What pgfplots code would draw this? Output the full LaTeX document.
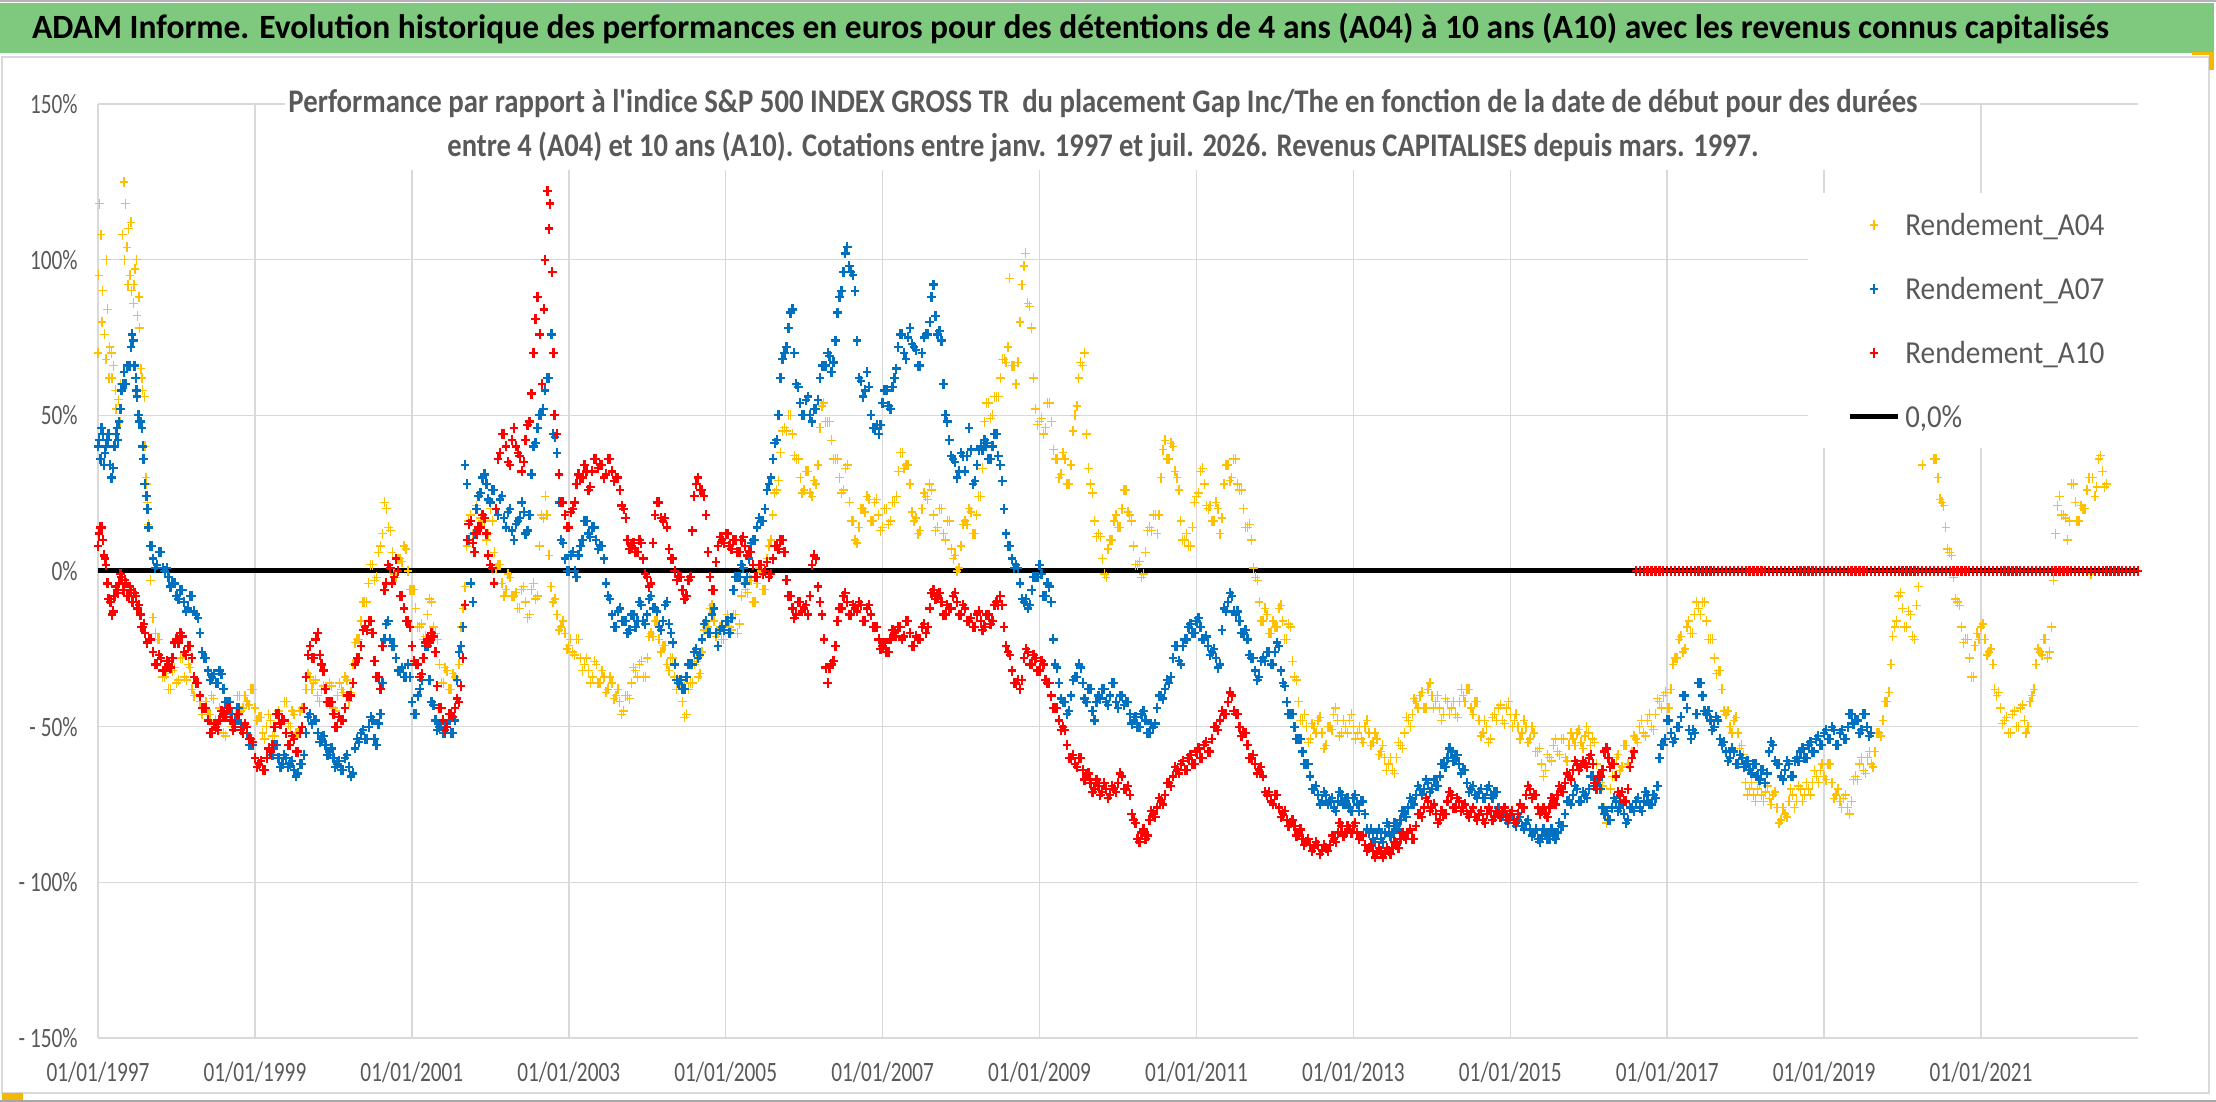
\documentclass[border=0pt]{standalone}
\usepackage{fontspec}
\setmainfont{Carlito}
\usepackage{graphicx}
\usepackage{pgfplots}
\pgfplotsset{compat=1.18}
\definecolor{cA04}{HTML}{FFC000}
\definecolor{cA07}{HTML}{0070C0}
\definecolor{cA10}{HTML}{FF0000}
\definecolor{txt}{HTML}{595959}
\definecolor{grd}{HTML}{D9D9D9}
\definecolor{ttl}{RGB}{127,201,127}
\definecolor{hdl}{HTML}{F5B800}
\newcommand{\sx}[2]{\scalebox{#1}[1]{#2}}
\begin{document}
\begin{tikzpicture}
\useasboundingbox (0,0) rectangle (1108pt,551pt);
\fill[white] (0,0) rectangle (1108pt,551pt);
\fill[ttl] (0,524.5pt) rectangle (1107pt,549.5pt);
\draw[gray!60, line width=0.75pt] (0,550.6pt) -- (1108pt,550.6pt);
\draw[grd, line width=0.75pt] (1pt,4.5pt) rectangle (1104.5pt,522.5pt);
\draw[gray!70, line width=0.75pt] (0,0.4pt) -- (1108pt,0.4pt);
\fill[hdl] (1pt,1pt) rectangle (11.5pt,4.5pt);
\fill[hdl] (1096pt,523.5pt) rectangle (1107pt,525pt);
\fill[hdl] (1104.5pt,516pt) rectangle (1107pt,525pt);
\node[anchor=base, inner sep=0pt] at (535.25pt,531.5pt) {\resizebox{1038.5pt}{\height}{\fontsize{17}{20}\selectfont\bfseries ADAM Informe. Evolution historique des performances en euros pour des détentions de 4 ans (A04) à 10 ans (A10) avec les revenus connus capitalisés}};
\begin{axis}[
  at={(49pt,32pt)}, anchor=south west, scale only axis,
  width=1020pt, height=467pt,
  xmin=1997, xmax=2023, ymin=-150, ymax=150,
  axis line style={draw=none},
  xtick={1997,1999,2001,2003,2005,2007,2009,2011,2013,2015,2017,2019,2021},
  xticklabels={\sx{0.76}{01/01/1997},\sx{0.76}{01/01/1999},\sx{0.76}{01/01/2001},\sx{0.76}{01/01/2003},\sx{0.76}{01/01/2005},\sx{0.76}{01/01/2007},\sx{0.76}{01/01/2009},\sx{0.76}{01/01/2011},\sx{0.76}{01/01/2013},\sx{0.76}{01/01/2015},\sx{0.76}{01/01/2017},\sx{0.76}{01/01/2019},\sx{0.76}{01/01/2021}},
  ytick={-150,-100,-50,0,50,100,150},
  yticklabels={\sx{0.76}{- 150\%},\sx{0.76}{- 100\%},\sx{0.76}{- 50\%},\sx{0.76}{0\%},\sx{0.76}{50\%},\sx{0.76}{100\%},\sx{0.76}{150\%}},
  grid=major, grid style={grd, line width=0.75pt},
  major tick length=0pt,
  xticklabel style={anchor=base, inner sep=0pt, yshift=-21.8pt, text=txt, font=\fontsize{14}{16}\selectfont},
  yticklabel style={anchor=east, inner sep=0pt, xshift=-10pt, text=txt, font=\fontsize{14}{16}\selectfont},
  legend style={at={(0.8382,0.9047)}, anchor=north west, draw=none, fill=white,
    inner xsep=19.5pt, inner ysep=8pt, row sep=16.5pt,
    font=\fontsize{16}{18}\selectfont, text=txt,
    nodes={inner sep=0pt, text height=13pt, text depth=2.5pt},
    /tikz/every odd column/.style={column sep=2.5pt}},
  legend cell align=left,
  legend image code/.code={\draw[mark repeat=2,mark phase=2,#1] plot coordinates {(0pt,0pt) (12pt,0pt) (24pt,0pt)};},
  every axis plot/.append style={mark size=2.5pt},
  y04/.style={only marks, mark=+, color=cA04, line width=0.7pt, mark options={xscale=0.85}},
  y07/.style={only marks, mark=+, color=cA07, line width=1.15pt, mark options={xscale=0.85}},
  y10/.style={only marks, mark=+, color=cA10, line width=1.15pt, mark options={xscale=0.85}},
]
\addplot[black, line width=2.5pt, forget plot] coordinates {(1997,0) (2023,0)};
% A04
\addplot[y04] coordinates {
(1997.00,70)(1997.02,118)(1997.04,108)(1997.06,90)(1997.08,76)(1997.10,68)(1997.12,84)(1997.15,72)(1997.18,62)(1997.20,66)
(1997.23,52)(1997.26,55)(1997.29,60)(1997.31,108)(1997.33,125)(1997.35,118)(1997.37,104)(1997.39,110)(1997.41,95)(1997.43,90)
(1997.45,86)(1997.47,97)(1997.50,82)(1997.52,88)(1997.55,65)(1997.57,58)(1997.60,40)(1997.62,28)(1997.64,15)(1997.67,-3)
(1997.70,-15)(1997.73,-20)(1997.76,-22)(1997.80,-28)(1997.85,-34)(1997.90,-38)(1997.95,-32)(1998.00,-36)(1998.05,-28)(1998.10,-34)
(1998.15,-30)(1998.20,-38)(1998.25,-36)(1998.30,-42)(1998.35,-44)(1998.40,-46)(1998.45,-40)(1998.50,-48)(1998.55,-44)(1998.60,-52)
(1998.65,-47)(1998.70,-50)(1998.75,-46)(1998.80,-40)(1998.85,-44)(1998.90,-42)(1998.95,-38)(1999.00,-44)(1999.05,-47)(1999.10,-52)
(1999.15,-50)(1999.20,-48)(1999.25,-53)(1999.30,-45)(1999.35,-48)(1999.40,-42)(1999.45,-50)(1999.50,-46)(1999.55,-52)(1999.60,-44)
(1999.65,-38)(1999.70,-34)(1999.75,-36)(1999.80,-40)(1999.85,-38)(1999.90,-42)(1999.95,-36)(2000.00,-44)(2000.05,-40)(2000.10,-38)
(2000.15,-34)(2000.20,-42)(2000.25,-30)(2000.30,-22)(2000.35,-16)(2000.40,-10)(2000.45,-4)(2000.50,2)(2000.55,-2)(2000.60,8)
(2000.65,22)(2000.68,20)(2000.70,14)(2000.75,6)(2000.80,-2)(2000.85,4)(2000.90,8)(2000.95,0)(2001.00,-6)(2001.05,-12)
(2001.10,-18)(2001.15,-22)(2001.20,-14)(2001.25,-10)(2001.30,-20)(2001.35,-30)(2001.40,-36)(2001.45,-32)(2001.50,-38)(2001.55,-34)
(2001.60,-30)(2001.65,-12)(2001.70,8)(2001.75,18)(2001.80,12)(2001.85,24)(2001.90,16)(2001.95,10)(2002.00,20)(2002.05,6)
(2002.10,2)(2002.15,-4)(2002.20,-6)(2002.25,-2)(2002.30,-8)(2002.35,-12)(2002.40,-6)(2002.45,-10)(2002.50,-14)(2002.55,-4)
(2002.60,-8)(2002.65,18)(2002.70,24)(2002.75,5)(2002.80,-10)(2002.85,-14)(2002.90,-18)(2002.95,-20)(2003.00,-24)(2003.05,-26)
(2003.10,-22)(2003.15,-28)(2003.20,-30)(2003.25,-32)(2003.30,-34)(2003.35,-30)(2003.40,-36)(2003.45,-34)(2003.50,-38)(2003.55,-36)
(2003.60,-40)(2003.65,-42)(2003.70,-45)(2003.75,-40)(2003.80,-36)(2003.85,-32)(2003.90,-30)(2003.95,-34)(2004.00,-28)(2004.05,-20)
(2004.10,-16)(2004.15,-22)(2004.20,-24)(2004.25,-30)(2004.30,-28)(2004.35,-34)(2004.40,-36)(2004.45,-42)(2004.50,-46)(2004.55,-36)
(2004.60,-30)(2004.65,-34)(2004.70,-26)(2004.75,-18)(2004.80,-12)(2004.85,-16)(2004.90,-20)(2004.95,-22)(2005.00,-16)(2005.05,-18)
(2005.10,-14)(2005.15,-20)(2005.20,-8)(2005.25,-6)(2005.30,-2)(2005.35,-10)(2005.40,-4)(2005.45,0)(2005.50,-6)(2005.55,8)
(2005.60,18)(2005.65,26)(2005.70,38)(2005.75,46)(2005.80,50)(2005.85,44)(2005.90,36)(2005.95,30)(2006.00,26)(2006.05,32)
(2006.10,24)(2006.15,28)(2006.20,46)(2006.25,54)(2006.30,48)(2006.35,42)(2006.40,36)(2006.45,30)(2006.50,26)(2006.55,34)
(2006.60,16)(2006.65,10)(2006.70,14)(2006.75,20)(2006.80,24)(2006.85,16)(2006.90,22)(2006.95,18)(2007.00,14)(2007.05,20)
(2007.10,16)(2007.15,22)(2007.20,32)(2007.25,38)(2007.30,34)(2007.35,28)(2007.40,16)(2007.45,12)(2007.50,20)(2007.55,24)
(2007.60,28)(2007.65,18)(2007.70,14)(2007.75,20)(2007.80,10)(2007.85,16)(2007.90,4)(2007.95,0)(2008.00,8)(2008.05,16)
(2008.10,20)(2008.15,12)(2008.20,18)(2008.25,24)(2008.30,48)(2008.35,54)(2008.40,50)(2008.45,56)(2008.50,62)(2008.55,68)
(2008.60,72)(2008.62,94)(2008.65,66)(2008.70,60)(2008.75,80)(2008.80,98)(2008.82,102)(2008.85,86)(2008.90,78)(2008.95,52)
(2009.00,48)(2009.05,44)(2009.10,54)(2009.15,48)(2009.20,36)(2009.25,30)(2009.30,38)(2009.35,28)(2009.40,34)(2009.45,50)
(2009.50,62)(2009.55,66)(2009.57,70)(2009.60,44)(2009.65,28)(2009.70,16)(2009.75,12)(2009.80,4)(2009.85,-2)(2009.90,10)
(2009.95,16)(2010.00,14)(2010.05,20)(2010.10,26)(2010.15,18)(2010.20,8)(2010.25,2)(2010.30,-2)(2010.35,6)(2010.40,14)
(2010.45,18)(2010.50,12)(2010.55,30)(2010.60,42)(2010.65,36)(2010.70,40)(2010.75,30)(2010.80,16)(2010.85,10)(2010.90,8)
(2010.95,14)(2011.00,24)(2011.05,32)(2011.10,28)(2011.15,20)(2011.20,16)(2011.25,22)(2011.30,12)(2011.35,28)(2011.40,34)
(2011.45,30)(2011.50,36)(2011.55,26)(2011.60,20)(2011.65,14)(2011.70,10)(2011.75,-2)(2011.80,-10)(2011.85,-16)(2011.90,-14)
(2011.95,-20)(2012.00,-18)(2012.05,-12)(2012.10,-16)(2012.15,-22)(2012.20,-18)(2012.25,-34)(2012.30,-42)(2012.35,-48)(2012.40,-50)
(2012.45,-54)(2012.50,-50)(2012.55,-48)(2012.60,-52)(2012.65,-56)(2012.70,-50)(2012.75,-46)(2012.80,-48)(2012.85,-52)(2012.90,-50)
(2012.95,-48)(2013.00,-50)(2013.05,-52)(2013.10,-54)(2013.15,-50)(2013.20,-52)(2013.25,-55)(2013.30,-54)(2013.35,-58)(2013.40,-60)
(2013.45,-62)(2013.50,-64)(2013.55,-60)(2013.60,-56)(2013.65,-52)(2013.70,-48)(2013.75,-46)(2013.80,-42)(2013.85,-40)(2013.90,-44)
(2013.95,-38)(2014.00,-40)(2014.05,-42)(2014.10,-44)(2014.15,-46)(2014.20,-42)(2014.25,-44)(2014.30,-46)(2014.35,-42)(2014.40,-40)
(2014.45,-38)(2014.50,-44)(2014.55,-42)(2014.60,-48)(2014.65,-52)(2014.70,-50)(2014.75,-54)(2014.80,-46)(2014.85,-44)(2014.90,-48)
(2014.95,-44)(2015.00,-46)(2015.05,-48)(2015.10,-50)(2015.15,-52)(2015.20,-50)(2015.25,-54)(2015.30,-52)(2015.35,-58)(2015.40,-62)
(2015.45,-64)(2015.50,-60)(2015.55,-56)(2015.60,-58)(2015.65,-54)(2015.70,-60)(2015.75,-56)(2015.80,-54)(2015.85,-52)(2015.90,-55)
(2015.95,-53)(2016.00,-52)(2016.05,-54)(2016.10,-62)(2016.15,-68)(2016.20,-76)(2016.25,-80)(2016.30,-66)(2016.35,-60)(2016.40,-64)
(2016.45,-56)(2016.50,-62)(2016.55,-58)(2016.60,-54)(2016.65,-50)(2016.70,-52)(2016.75,-48)(2016.80,-50)(2016.85,-46)(2016.90,-42)
(2016.95,-40)(2017.00,-44)(2017.05,-38)(2017.10,-28)(2017.15,-22)(2017.20,-26)(2017.25,-18)(2017.30,-20)(2017.35,-14)(2017.40,-12)
(2017.45,-10)(2017.50,-16)(2017.55,-22)(2017.60,-28)(2017.65,-32)(2017.70,-38)(2017.75,-46)(2017.80,-50)(2017.85,-48)(2017.90,-52)
(2017.95,-56)(2018.00,-68)(2018.05,-70)(2018.10,-72)(2018.15,-70)(2018.20,-72)(2018.25,-71)(2018.30,-73)(2018.35,-72)(2018.40,-76)
(2018.45,-80)(2018.50,-78)(2018.55,-74)(2018.60,-72)(2018.65,-74)(2018.70,-70)(2018.75,-72)(2018.80,-70)(2018.85,-68)(2018.90,-66)
(2018.95,-64)(2019.00,-66)(2019.05,-62)(2019.10,-68)(2019.15,-72)(2019.20,-74)(2019.25,-73)(2019.30,-76)(2019.35,-74)(2019.40,-66)
(2019.45,-62)(2019.50,-64)(2019.55,-60)(2019.60,-62)(2019.65,-58)(2019.70,-52)(2019.75,-48)(2019.80,-42)(2019.85,-30)(2019.90,-18)
(2019.95,-8)(2020.00,-12)(2020.05,-18)(2020.10,-14)(2020.15,-22)(2020.20,-5)(2020.25,34)(2020.40,36)(2020.45,30)(2020.50,22)
(2020.55,14)(2020.60,6)(2020.65,-2)(2020.70,-10)(2020.75,-18)(2020.80,-22)(2020.85,-28)(2020.90,-34)(2020.95,-20)(2021.00,-18)
(2021.05,-22)(2021.10,-26)(2021.15,-30)(2021.20,-40)(2021.25,-44)(2021.30,-48)(2021.35,-52)(2021.40,-46)(2021.45,-50)(2021.50,-44)
(2021.55,-48)(2021.60,-50)(2021.65,-40)(2021.70,-30)(2021.75,-26)(2021.80,-22)(2021.85,-28)(2021.90,-18)(2021.95,12)(2022.00,24)
(2022.05,18)(2022.10,10)(2022.15,28)(2022.20,22)(2022.25,16)(2022.30,20)(2022.35,26)(2022.40,-1)(2022.42,30)(2022.45,24)
(2022.50,36)(2022.55,32)(2022.60,28)
};
\addlegendentry{\sx{0.914}{Rendement\_A04}}
\addplot[y04, forget plot] coordinates {
(1997.01,95)(1997.05,80)(1997.11,100)(1997.14,62)(1997.17,70)(1997.22,58)(1997.28,48)(1997.34,100)(1997.38,92)(1997.42,112)
(1997.46,92)(1997.49,100)(1997.53,78)(1997.56,62)(1997.59,56)(1997.61,30)(1997.63,22)
(1997.78,-22)(1997.825,-34)(1997.875,-33)(1997.925,-38)(1997.975,-31)(1998.025,-35)(1998.075,-28)(1998.125,-35)(1998.175,-31)(1998.225,-40)
(1998.275,-36)(1998.325,-46)(1998.375,-42)(1998.425,-46)(1998.475,-41)(1998.525,-49)(1998.575,-45)(1998.625,-53)(1998.675,-46)(1998.725,-51)
(1998.775,-40)(1998.825,-45)(1998.875,-40)(1998.925,-43)(1998.975,-38)(1999.025,-48)(1999.075,-47)(1999.125,-54)(1999.175,-46)(1999.225,-53)
(1999.275,-46)(1999.325,-49)(1999.375,-42)(1999.425,-49)(1999.475,-45)(1999.525,-52)(1999.575,-45)(1999.625,-44)(1999.675,-33)(1999.725,-38)
(1999.775,-35)(1999.825,-42)(1999.875,-37)(1999.925,-42)(1999.975,-37)(2000.025,-45)(2000.075,-36)(2000.125,-39)(2000.175,-35)(2000.225,-39)
(2000.275,-23)(2000.325,-22)(2000.375,-10)(2000.425,-10)(2000.475,2)(2000.525,-3)(2000.575,6)(2000.625,12)(2000.725,13)(2000.775,-1)
(2000.825,4)(2000.875,3)(2000.925,7)(2000.975,-6)(2001.025,-6)(2001.075,-18)(2001.125,-17)(2001.175,-21)(2001.225,-9)(2001.275,-18)
(2001.325,-22)(2001.375,-36)(2001.425,-31)(2001.475,-38)(2001.525,-33)(2001.575,-35)(2001.625,-18)(2001.675,-5)(2001.725,16)(2001.775,12)
(2001.825,21)(2001.875,17)(2001.925,16)(2001.975,12)(2002.025,16)(2002.075,1)(2002.125,2)(2002.175,-8)(2002.225,-1)(2002.275,-8)
(2002.325,-7)(2002.375,-12)(2002.425,-5)(2002.475,-15)(2002.525,-6)(2002.575,-9)(2002.625,8)(2002.675,17)(2002.725,18)(2002.775,-5)
(2002.825,-9)(2002.875,-19)(2002.925,-16)(2002.975,-25)(2003.025,-22)(2003.075,-27)(2003.125,-22)(2003.175,-32)(2003.225,-28)(2003.275,-36)
(2003.325,-29)(2003.375,-36)(2003.425,-32)(2003.475,-39)(2003.525,-34)(2003.575,-41)(2003.625,-38)(2003.675,-46)(2003.725,-40)(2003.775,-41)
(2003.825,-31)(2003.875,-34)(2003.925,-29)(2003.975,-34)(2004.025,-21)(2004.075,-21)(2004.125,-16)(2004.175,-26)(2004.225,-24)(2004.275,-32)
(2004.325,-28)(2004.375,-38)(2004.425,-36)(2004.475,-47)(2004.525,-38)(2004.575,-36)(2004.625,-29)(2004.675,-33)(2004.725,-19)(2004.775,-18)
(2004.825,-11)(2004.875,-21)(2004.925,-18)(2004.975,-22)(2005.025,-14)(2005.075,-19)(2005.125,-14)(2005.175,-17)(2005.225,-4)(2005.275,-7)
(2005.325,-3)(2005.375,-10)(2005.425,1)(2005.475,-6)(2005.525,4)(2005.575,10)(2005.625,25)(2005.675,29)(2005.725,45)(2005.775,45)
(2005.825,50)(2005.875,37)(2005.925,36)(2005.975,25)(2006.025,32)(2006.075,25)(2006.125,29)(2006.175,34)(2006.225,53)(2006.275,48)
(2006.325,48)(2006.375,36)(2006.425,36)(2006.475,25)(2006.525,33)(2006.575,22)(2006.625,16)(2006.675,9)(2006.725,20)(2006.775,19)
(2006.825,23)(2006.875,16)(2006.925,23)(2006.975,13)(2007.025,20)(2007.075,15)(2007.125,22)(2007.175,24)(2007.225,38)(2007.275,33)
(2007.325,34)(2007.375,19)(2007.425,17)(2007.475,13)(2007.525,25)(2007.575,23)(2007.625,26)(2007.675,13)(2007.725,20)(2007.775,12)
(2007.825,16)(2007.875,7)(2007.925,5)(2007.975,1)(2008.025,15)(2008.075,15)(2008.125,19)(2008.175,12)(2008.225,24)(2008.275,33)
(2008.325,54)(2008.375,49)(2008.425,56)(2008.475,56)(2008.525,68)(2008.575,67)(2008.675,66)(2008.725,67)(2008.775,92)(2008.875,85)
(2008.925,62)(2008.975,47)(2009.025,49)(2009.075,46)(2009.125,54)(2009.175,39)(2009.225,36)(2009.275,31)(2009.325,36)(2009.375,28)
(2009.425,45)(2009.475,53)(2009.525,67)(2009.625,33)(2009.675,25)(2009.725,11)(2009.775,11)(2009.825,-1)(2009.875,7)(2009.925,10)
(2009.975,18)(2010.025,14)(2010.075,26)(2010.125,19)(2010.175,16)(2010.225,2)(2010.275,3)(2010.325,-1)(2010.375,13)(2010.425,13)
(2010.475,18)(2010.525,18)(2010.575,39)(2010.625,36)(2010.675,41)(2010.725,32)(2010.775,26)(2010.825,10)(2010.875,12)(2010.925,8)
(2010.975,22)(2011.025,25)(2011.075,33)(2011.125,21)(2011.175,21)(2011.225,16)(2011.275,20)(2011.325,17)(2011.375,34)(2011.425,29)
(2011.475,36)(2011.525,28)(2011.575,26)(2011.625,14)(2011.675,15)(2011.725,1)(2011.775,-3)(2011.825,-16)(2011.875,-12)(2011.925,-20)
(2011.975,-16)(2012.025,-18)(2012.075,-11)(2012.125,-22)(2012.175,-17)(2012.225,-29)(2012.275,-35)(2012.325,-48)(2012.375,-46)(2012.425,-55)
(2012.475,-49)(2012.525,-52)(2012.575,-47)(2012.625,-57)(2012.675,-50)(2012.725,-51)(2012.775,-44)(2012.825,-53)(2012.875,-48)(2012.925,-52)
(2012.975,-46)(2013.025,-54)(2013.075,-50)(2013.125,-55)(2013.175,-48)(2013.225,-56)(2013.275,-52)(2013.325,-59)(2013.375,-56)(2013.425,-64)
(2013.475,-60)(2013.525,-65)(2013.575,-55)(2013.625,-57)(2013.675,-47)(2013.725,-50)(2013.775,-41)(2013.825,-44)(2013.875,-39)(2013.925,-44)
(2013.975,-36)(2014.025,-44)(2014.075,-40)(2014.125,-48)(2014.175,-41)(2014.225,-46)(2014.275,-42)(2014.325,-47)(2014.375,-38)(2014.425,-42)
(2014.475,-38)(2014.525,-46)(2014.575,-42)(2014.625,-53)(2014.675,-48)(2014.725,-55)(2014.775,-47)(2014.825,-48)(2014.875,-43)(2014.925,-49)
(2014.975,-42)(2015.025,-50)(2015.075,-46)(2015.125,-54)(2015.175,-48)(2015.225,-55)(2015.275,-50)(2015.325,-58)(2015.375,-57)(2015.425,-66)
(2015.475,-59)(2015.525,-61)(2015.575,-54)(2015.625,-59)(2015.675,-54)(2015.725,-61)(2015.775,-52)(2015.825,-56)(2015.875,-51)(2015.925,-57)
(2015.975,-50)(2016.025,-56)(2016.075,-55)(2016.125,-68)(2016.175,-69)(2016.225,-81)(2016.275,-70)(2016.325,-66)(2016.375,-59)(2016.425,-63)
(2016.475,-56)(2016.525,-63)(2016.575,-53)(2016.625,-55)(2016.675,-48)(2016.725,-53)(2016.775,-46)(2016.825,-51)(2016.875,-41)(2016.925,-44)
(2016.975,-39)(2017.025,-44)(2017.075,-30)(2017.125,-28)(2017.175,-21)(2017.225,-25)(2017.275,-16)(2017.325,-20)(2017.375,-10)(2017.425,-14)
(2017.475,-10)(2017.525,-22)(2017.575,-22)(2017.625,-33)(2017.675,-32)(2017.725,-45)(2017.775,-45)(2017.825,-52)(2017.875,-47)(2017.925,-57)
(2017.975,-59)(2018.025,-72)(2018.075,-68)(2018.125,-74)(2018.175,-68)(2018.225,-74)(2018.275,-69)(2018.325,-75)(2018.375,-71)(2018.425,-81)
(2018.475,-76)(2018.525,-79)(2018.575,-70)(2018.625,-76)(2018.675,-69)(2018.725,-74)(2018.775,-68)(2018.825,-72)(2018.875,-64)(2018.925,-68)
(2018.975,-62)(2019.025,-67)(2019.075,-62)(2019.125,-73)(2019.175,-70)(2019.225,-76)(2019.275,-72)(2019.325,-78)(2019.375,-67)(2019.425,-67)
(2019.475,-60)(2019.525,-65)(2019.575,-58)(2019.625,-63)(2019.675,-52)(2019.725,-53)(2019.775,-42)(2019.825,-39)(2019.875,-21)(2019.925,-16)
(2019.975,-7)(2020.025,-18)(2020.075,-13)(2020.125,-21)(2020.175,-11)(2020.425,36)(2020.475,23)(2020.525,21)(2020.575,7)(2020.625,5)
(2020.675,-9)(2020.725,-11)(2020.775,-23)(2020.825,-22)(2020.875,-34)(2020.925,-24)(2020.975,-22)(2021.025,-17)(2021.075,-27)(2021.125,-25)
(2021.175,-38)(2021.225,-39)(2021.275,-49)(2021.325,-47)(2021.375,-52)(2021.425,-45)(2021.475,-50)(2021.525,-43)(2021.575,-52)(2021.625,-42)
(2021.675,-38)(2021.725,-25)(2021.775,-27)(2021.825,-22)(2021.875,-26)(2021.925,-3)(2021.975,21)(2022.025,18)(2022.075,17)(2022.125,16)
(2022.175,28)(2022.225,16)(2022.275,21)(2022.325,20)(2022.375,30)(2022.475,27)(2022.525,37)(2022.575,27)
};
% A07
\addplot[y07] coordinates {
(1997.00,40)(1997.03,36)(1997.06,44)(1997.09,38)(1997.12,42)(1997.15,34)(1997.18,30)(1997.21,40)(1997.24,46)(1997.27,48)
(1997.30,58)(1997.33,64)(1997.36,60)(1997.39,66)(1997.42,72)(1997.45,74)(1997.48,62)(1997.50,56)(1997.53,48)(1997.56,46)
(1997.58,36)(1997.61,24)(1997.63,20)(1997.66,8)(1997.70,4)(1997.75,2)(1997.80,6)(1997.85,0)(1997.90,-2)(1997.95,-4)
(1998.00,-8)(1998.05,-6)(1998.10,-10)(1998.15,-12)(1998.20,-8)(1998.25,-14)(1998.30,-20)(1998.35,-28)(1998.40,-32)(1998.45,-34)
(1998.50,-36)(1998.55,-32)(1998.60,-38)(1998.65,-42)(1998.70,-46)(1998.75,-48)(1998.80,-44)(1998.85,-50)(1998.90,-52)(1998.95,-56)
(1999.00,-60)(1999.05,-62)(1999.10,-64)(1999.15,-60)(1999.20,-58)(1999.25,-56)(1999.30,-60)(1999.35,-62)(1999.40,-60)(1999.45,-62)
(1999.50,-64)(1999.55,-65)(1999.60,-62)(1999.65,-52)(1999.70,-46)(1999.75,-48)(1999.80,-52)(1999.85,-54)(1999.90,-56)(1999.95,-58)
(2000.00,-60)(2000.05,-62)(2000.10,-64)(2000.15,-60)(2000.20,-63)(2000.25,-65)(2000.30,-54)(2000.35,-52)(2000.40,-54)(2000.45,-50)
(2000.50,-48)(2000.55,-56)(2000.60,-46)(2000.65,-22)(2000.70,-16)(2000.75,-24)(2000.80,-28)(2000.85,-32)(2000.90,-34)(2000.95,-30)
(2001.00,-42)(2001.05,-46)(2001.10,-38)(2001.15,-28)(2001.20,-24)(2001.25,-42)(2001.30,-48)(2001.35,-50)(2001.40,-52)(2001.45,-49)
(2001.50,-52)(2001.55,-48)(2001.60,-26)(2001.65,-18)(2001.68,34)(2001.70,28)(2001.75,-4)(2001.78,-10)(2001.80,12)(2001.85,24)
(2001.90,30)(2001.95,28)(2002.00,22)(2002.05,26)(2002.10,18)(2002.15,24)(2002.20,14)(2002.25,20)(2002.30,10)(2002.35,16)
(2002.40,22)(2002.45,12)(2002.50,18)(2002.55,40)(2002.60,46)(2002.65,50)(2002.70,58)(2002.75,62)(2002.78,76)(2002.80,44)
(2002.85,38)(2002.90,10)(2002.95,4)(2003.00,0)(2003.05,6)(2003.10,-2)(2003.15,8)(2003.20,16)(2003.25,12)(2003.30,14)
(2003.35,10)(2003.40,8)(2003.45,4)(2003.50,-8)(2003.55,-14)(2003.60,-18)(2003.65,-12)(2003.70,-16)(2003.75,-20)(2003.80,-14)
(2003.85,-18)(2003.90,-10)(2003.95,-16)(2004.00,-14)(2004.05,-8)(2004.10,-12)(2004.15,-18)(2004.20,-16)(2004.25,-10)(2004.30,-20)
(2004.35,-30)(2004.40,-36)(2004.45,-38)(2004.50,-34)(2004.55,-30)(2004.60,-26)(2004.65,-28)(2004.70,-22)(2004.75,-16)(2004.80,-20)
(2004.85,-12)(2004.90,-24)(2004.95,-18)(2005.00,-16)(2005.05,-20)(2005.10,-6)(2005.15,-2)(2005.20,2)(2005.25,-4)(2005.30,4)
(2005.35,10)(2005.40,14)(2005.45,16)(2005.50,20)(2005.55,28)(2005.60,36)(2005.65,42)(2005.70,62)(2005.75,70)(2005.80,78)
(2005.85,84)(2005.90,60)(2005.95,54)(2006.00,50)(2006.05,56)(2006.10,48)(2006.15,52)(2006.20,62)(2006.25,66)(2006.30,70)
(2006.35,64)(2006.40,74)(2006.45,88)(2006.50,96)(2006.55,104)(2006.60,96)(2006.65,90)(2006.70,62)(2006.75,56)(2006.80,64)
(2006.85,50)(2006.90,46)(2006.95,44)(2007.00,54)(2007.05,58)(2007.10,52)(2007.15,62)(2007.20,72)(2007.25,76)(2007.30,68)
(2007.35,78)(2007.40,72)(2007.45,66)(2007.50,70)(2007.55,76)(2007.60,80)(2007.65,92)(2007.70,76)(2007.75,74)(2007.80,50)
(2007.85,42)(2007.90,36)(2007.95,30)(2008.00,38)(2008.05,32)(2008.10,46)(2008.15,28)(2008.20,34)(2008.25,40)(2008.30,42)
(2008.35,36)(2008.40,40)(2008.45,44)(2008.50,34)(2008.55,20)(2008.60,8)(2008.65,4)(2008.70,2)(2008.75,-4)(2008.80,-10)
(2008.85,-12)(2008.90,-6)(2008.95,-2)(2009.00,2)(2009.05,-8)(2009.10,-4)(2009.15,-10)(2009.20,-30)(2009.25,-36)(2009.30,-42)
(2009.35,-46)(2009.40,-40)(2009.45,-34)(2009.50,-30)(2009.55,-36)(2009.60,-42)(2009.65,-38)(2009.70,-48)(2009.75,-40)(2009.80,-38)
(2009.85,-42)(2009.90,-40)(2009.95,-36)(2010.00,-44)(2010.05,-40)(2010.10,-42)(2010.15,-46)(2010.20,-48)(2010.25,-50)(2010.30,-46)
(2010.35,-48)(2010.40,-52)(2010.45,-50)(2010.50,-44)(2010.55,-40)(2010.60,-38)(2010.65,-36)(2010.70,-28)(2010.75,-24)(2010.80,-30)
(2010.85,-22)(2010.90,-18)(2010.95,-20)(2011.00,-16)(2011.05,-18)(2011.10,-22)(2011.15,-24)(2011.20,-26)(2011.25,-28)(2011.30,-30)
(2011.35,-12)(2011.40,-10)(2011.45,-8)(2011.50,-14)(2011.55,-16)(2011.60,-20)(2011.65,-22)(2011.70,-28)(2011.75,-32)(2011.80,-34)
(2011.85,-28)(2011.90,-26)(2011.95,-30)(2012.00,-26)(2012.05,-24)(2012.10,-36)(2012.15,-42)(2012.20,-46)(2012.25,-50)(2012.30,-54)
(2012.35,-58)(2012.40,-62)(2012.45,-66)(2012.50,-70)(2012.55,-72)(2012.60,-74)(2012.65,-72)(2012.70,-74)(2012.75,-76)(2012.80,-74)
(2012.85,-72)(2012.90,-74)(2012.95,-76)(2013.00,-73)(2013.05,-75)(2013.10,-74)(2013.15,-78)(2013.20,-84)(2013.25,-86)(2013.30,-84)
(2013.35,-86)(2013.40,-84)(2013.45,-82)(2013.50,-84)(2013.55,-82)(2013.60,-80)(2013.65,-78)(2013.70,-76)(2013.75,-74)(2013.80,-72)
(2013.85,-70)(2013.90,-70)(2013.95,-68)(2014.00,-70)(2014.05,-69)(2014.10,-66)(2014.15,-62)(2014.20,-60)(2014.25,-58)(2014.30,-60)
(2014.35,-62)(2014.40,-64)(2014.45,-68)(2014.50,-70)(2014.55,-72)(2014.60,-71)(2014.65,-73)(2014.70,-70)(2014.75,-72)(2014.80,-71)
(2014.85,-76)(2014.90,-78)(2014.95,-80)(2015.00,-79)(2015.05,-81)(2015.10,-80)(2015.15,-82)(2015.20,-81)(2015.25,-83)(2015.30,-84)
(2015.35,-86)(2015.40,-85)(2015.45,-84)(2015.50,-86)(2015.55,-85)(2015.60,-84)(2015.65,-82)(2015.70,-78)(2015.75,-74)(2015.80,-72)
(2015.85,-70)(2015.90,-74)(2015.95,-72)(2016.00,-70)(2016.05,-66)(2016.10,-68)(2016.15,-70)(2016.20,-78)(2016.25,-80)(2016.30,-76)
(2016.35,-74)(2016.40,-76)(2016.45,-78)(2016.50,-80)(2016.55,-76)(2016.60,-74)(2016.65,-76)(2016.70,-74)(2016.75,-72)(2016.80,-75)
(2016.85,-73)(2016.90,-60)(2016.95,-56)(2017.00,-48)(2017.05,-52)(2017.10,-54)(2017.15,-50)(2017.20,-40)(2017.25,-44)(2017.30,-54)
(2017.35,-52)(2017.40,-36)(2017.45,-40)(2017.50,-46)(2017.55,-48)(2017.60,-50)(2017.65,-48)(2017.70,-56)(2017.75,-58)(2017.80,-60)
(2017.85,-58)(2017.90,-62)(2017.95,-60)(2018.00,-62)(2018.05,-64)(2018.10,-62)(2018.15,-66)(2018.20,-64)(2018.25,-68)(2018.30,-58)
(2018.35,-56)(2018.40,-62)(2018.45,-66)(2018.50,-64)(2018.55,-62)(2018.60,-66)(2018.65,-60)(2018.70,-58)(2018.75,-60)(2018.80,-56)
(2018.85,-58)(2018.90,-54)(2018.95,-56)(2019.00,-52)(2019.05,-54)(2019.10,-50)(2019.15,-56)(2019.20,-52)(2019.25,-54)(2019.30,-50)
(2019.35,-46)(2019.40,-48)(2019.45,-52)(2019.50,-46)(2019.55,-50)(2019.60,-52)
};
\addlegendentry{\sx{0.914}{Rendement\_A07}}
\addplot[y07, forget plot] coordinates {
(1997.015,42)(1997.045,46)(1997.075,34)(1997.105,40)(1997.135,44)(1997.165,30)(1997.195,33)(1997.225,44)(1997.255,42)(1997.285,52)
(1997.315,60)(1997.345,60)(1997.375,66)(1997.405,66)(1997.435,76)(1997.465,66)(1997.49,58)(1997.515,50)(1997.545,48)(1997.57,40)
(1997.595,28)(1997.62,24)(1997.645,14)(1997.68,8)(1997.725,1)
(1997.775,6)(1997.825,1)(1997.875,1)(1997.925,-5)(1997.975,-4)(1998.025,-9)(1998.075,-6)(1998.125,-13)(1998.175,-8)(1998.225,-13)
(1998.275,-15)(1998.325,-26)(1998.375,-28)(1998.425,-35)(1998.475,-33)(1998.525,-36)(1998.575,-33)(1998.625,-42)(1998.675,-42)(1998.725,-49)
(1998.775,-44)(1998.825,-49)(1998.875,-49)(1998.925,-56)(1998.975,-56)(1999.025,-63)(1999.075,-61)(1999.125,-64)(1999.175,-57)(1999.225,-59)
(1999.275,-56)(1999.325,-63)(1999.375,-59)(1999.425,-63)(1999.475,-61)(1999.525,-66)(1999.575,-62)(1999.625,-59)(1999.675,-47)(1999.725,-49)
(1999.775,-48)(1999.825,-55)(1999.875,-53)(1999.925,-59)(1999.975,-57)(2000.025,-63)(2000.075,-61)(2000.125,-64)(2000.175,-59)(2000.225,-66)
(2000.275,-57)(2000.325,-55)(2000.375,-51)(2000.425,-54)(2000.475,-47)(2000.525,-54)(2000.575,-49)(2000.625,-36)(2000.675,-17)(2000.725,-22)
(2000.775,-24)(2000.825,-32)(2000.875,-31)(2000.925,-34)(2000.975,-34)(2001.025,-46)(2001.075,-40)(2001.125,-35)(2001.175,-24)(2001.225,-35)
(2001.275,-43)(2001.325,-51)(2001.375,-49)(2001.425,-52)(2001.475,-48)(2001.525,-52)(2001.575,-35)(2001.625,-24)(2001.725,10)(2001.825,20)
(2001.875,25)(2001.925,31)(2001.975,23)(2002.025,26)(2002.075,20)(2002.125,23)(2002.175,17)(2002.225,19)(2002.275,13)(2002.325,15)
(2002.375,17)(2002.425,19)(2002.475,13)(2002.525,31)(2002.575,41)(2002.625,50)(2002.675,52)(2002.725,62)(2002.825,43)(2002.875,22)
(2002.925,9)(2002.975,0)(2003.025,5)(2003.075,0)(2003.125,5)(2003.175,10)(2003.225,16)(2003.275,11)(2003.325,14)(2003.375,7)
(2003.425,8)(2003.475,-4)(2003.525,-9)(2003.575,-18)(2003.625,-13)(2003.675,-16)(2003.725,-16)(2003.775,-19)(2003.825,-14)(2003.875,-16)
(2003.925,-11)(2003.975,-17)(2004.025,-9)(2004.075,-12)(2004.125,-13)(2004.175,-19)(2004.225,-11)(2004.275,-17)(2004.325,-23)(2004.375,-35)
(2004.425,-35)(2004.475,-38)(2004.525,-30)(2004.575,-30)(2004.625,-25)(2004.675,-27)(2004.725,-17)(2004.775,-20)(2004.825,-14)(2004.875,-20)
(2004.925,-19)(2004.975,-19)(2005.025,-16)(2005.075,-15)(2005.125,-2)(2005.175,-2)(2005.225,1)(2005.275,-2)(2005.325,9)(2005.375,10)
(2005.425,17)(2005.475,16)(2005.525,26)(2005.575,30)(2005.625,41)(2005.675,50)(2005.725,68)(2005.775,72)(2005.825,83)(2005.875,70)
(2005.925,59)(2005.975,50)(2006.025,55)(2006.075,50)(2006.125,52)(2006.175,55)(2006.225,66)(2006.275,66)(2006.325,69)(2006.375,67)
(2006.425,83)(2006.475,90)(2006.525,102)(2006.575,98)(2006.625,95)(2006.675,74)(2006.725,61)(2006.775,58)(2006.825,59)(2006.875,46)
(2006.925,47)(2006.975,47)(2007.025,58)(2007.075,53)(2007.125,59)(2007.175,65)(2007.225,76)(2007.275,70)(2007.325,75)(2007.375,73)
(2007.425,71)(2007.475,66)(2007.525,75)(2007.575,76)(2007.625,88)(2007.675,82)(2007.725,77)(2007.775,60)(2007.825,48)(2007.875,37)
(2007.925,35)(2007.975,32)(2008.025,37)(2008.075,37)(2008.125,39)(2008.175,29)(2008.225,39)(2008.275,39)(2008.325,41)(2008.375,36)
(2008.425,44)(2008.475,37)(2008.525,29)(2008.575,12)(2008.625,8)(2008.675,1)(2008.725,1)(2008.775,-9)(2008.825,-9)(2008.875,-11)
(2008.925,-2)(2008.975,-2)(2009.025,-1)(2009.075,-8)(2009.125,-5)(2009.175,-22)(2009.225,-31)(2009.275,-41)(2009.325,-42)(2009.375,-45)
(2009.425,-35)(2009.475,-34)(2009.525,-31)(2009.575,-41)(2009.625,-38)(2009.675,-45)(2009.725,-42)(2009.775,-41)(2009.825,-38)(2009.875,-43)
(2009.925,-36)(2009.975,-42)(2010.025,-40)(2010.075,-43)(2010.125,-42)(2010.175,-49)(2010.225,-47)(2010.275,-50)(2010.325,-45)(2010.375,-52)
(2010.425,-49)(2010.475,-49)(2010.525,-40)(2010.575,-41)(2010.625,-35)(2010.675,-34)(2010.725,-24)(2010.775,-29)(2010.825,-24)(2010.875,-22)
(2010.925,-17)(2010.975,-20)(2011.025,-15)(2011.075,-22)(2011.125,-21)(2011.175,-27)(2011.225,-25)(2011.275,-31)(2011.325,-19)(2011.375,-13)
(2011.425,-7)(2011.475,-13)(2011.525,-13)(2011.575,-20)(2011.625,-19)(2011.675,-27)(2011.725,-28)(2011.775,-35)(2011.825,-29)(2011.875,-29)
(2011.925,-26)(2011.975,-30)(2012.025,-23)(2012.075,-32)(2012.125,-37)(2012.175,-46)(2012.225,-46)(2012.275,-54)(2012.325,-54)(2012.375,-62)
(2012.425,-62)(2012.475,-70)(2012.525,-69)(2012.575,-75)(2012.625,-71)(2012.675,-75)(2012.725,-73)(2012.775,-77)(2012.825,-71)(2012.875,-75)
(2012.925,-73)(2012.975,-77)(2013.025,-72)(2013.075,-77)(2013.125,-74)(2013.175,-83)(2013.225,-83)(2013.275,-87)(2013.325,-83)(2013.375,-87)
(2013.425,-81)(2013.475,-85)(2013.525,-81)(2013.575,-83)(2013.625,-77)(2013.675,-79)(2013.725,-73)(2013.775,-75)(2013.825,-69)(2013.875,-72)
(2013.925,-67)(2013.975,-71)(2014.025,-67)(2014.075,-69)(2014.125,-62)(2014.175,-63)(2014.225,-57)(2014.275,-61)(2014.325,-59)(2014.375,-65)
(2014.425,-64)(2014.475,-71)(2014.525,-69)(2014.575,-73)(2014.625,-70)(2014.675,-73)(2014.725,-69)(2014.775,-73)(2014.825,-71)(2014.875,-79)
(2014.925,-77)(2014.975,-81)(2015.025,-78)(2015.075,-82)(2015.125,-79)(2015.175,-83)(2015.225,-80)(2015.275,-85)(2015.325,-83)(2015.375,-87)
(2015.425,-83)(2015.475,-86)(2015.525,-83)(2015.575,-86)(2015.625,-81)(2015.675,-82)(2015.725,-74)(2015.775,-75)(2015.825,-69)(2015.875,-74)
(2015.925,-71)(2015.975,-73)(2016.025,-66)(2016.075,-69)(2016.125,-67)(2016.175,-76)(2016.225,-77)(2016.275,-80)(2016.325,-73)(2016.375,-77)
(2016.425,-75)(2016.475,-81)(2016.525,-76)(2016.575,-77)(2016.625,-73)(2016.675,-77)(2016.725,-71)(2016.775,-75)(2016.825,-72)(2016.875,-69)
(2016.925,-56)(2016.975,-54)(2017.025,-48)(2017.075,-55)(2017.125,-50)(2017.175,-47)(2017.225,-40)(2017.275,-51)(2017.325,-51)(2017.375,-46)
(2017.425,-36)(2017.475,-45)(2017.525,-45)(2017.575,-51)(2017.625,-47)(2017.675,-54)(2017.725,-55)(2017.775,-61)(2017.825,-57)(2017.875,-62)
(2017.925,-59)(2017.975,-63)(2018.025,-61)(2018.075,-65)(2018.125,-62)(2018.175,-67)(2018.225,-64)(2018.275,-65)(2018.325,-55)(2018.375,-61)
(2018.425,-62)(2018.475,-67)(2018.525,-61)(2018.575,-66)(2018.625,-61)(2018.675,-61)(2018.725,-57)(2018.775,-60)(2018.825,-55)(2018.875,-58)
(2018.925,-53)(2018.975,-56)(2019.025,-51)(2019.075,-54)(2019.125,-51)(2019.175,-56)(2019.225,-51)(2019.275,-54)(2019.325,-46)(2019.375,-49)
(2019.425,-48)(2019.475,-51)(2019.525,-46)(2019.575,-53)
};
% A10
\addplot[y10] coordinates {
(1997.00,8)(1997.03,14)(1997.06,10)(1997.09,4)(1997.12,-4)(1997.15,-10)(1997.18,-14)(1997.21,-8)(1997.24,-6)(1997.27,-4)
(1997.30,-2)(1997.33,-6)(1997.36,-4)(1997.39,-8)(1997.42,-6)(1997.45,-10)(1997.48,-8)(1997.51,-12)(1997.54,-14)(1997.57,-18)
(1997.60,-20)(1997.65,-22)(1997.70,-26)(1997.75,-30)(1997.80,-28)(1997.85,-32)(1997.90,-30)(1997.95,-28)(1998.00,-22)(1998.05,-20)
(1998.10,-26)(1998.15,-24)(1998.20,-28)(1998.25,-36)(1998.30,-40)(1998.35,-44)(1998.40,-48)(1998.45,-52)(1998.50,-50)(1998.55,-48)
(1998.60,-46)(1998.65,-44)(1998.70,-48)(1998.75,-50)(1998.80,-46)(1998.85,-52)(1998.90,-50)(1998.95,-54)(1999.00,-60)(1999.05,-62)
(1999.10,-64)(1999.15,-60)(1999.20,-58)(1999.25,-50)(1999.30,-46)(1999.35,-48)(1999.40,-52)(1999.45,-56)(1999.50,-54)(1999.55,-58)
(1999.60,-50)(1999.65,-34)(1999.70,-24)(1999.75,-28)(1999.80,-20)(1999.85,-30)(1999.90,-38)(1999.95,-42)(2000.00,-46)(2000.05,-50)
(2000.10,-48)(2000.15,-44)(2000.20,-40)(2000.25,-36)(2000.30,-28)(2000.35,-24)(2000.40,-18)(2000.45,-16)(2000.50,-20)(2000.55,-34)
(2000.60,-38)(2000.65,-6)(2000.70,2)(2000.75,-4)(2000.80,4)(2000.85,-8)(2000.90,-12)(2000.95,-16)(2001.00,-24)(2001.05,-30)
(2001.10,-34)(2001.15,-28)(2001.20,-22)(2001.25,-20)(2001.30,-26)(2001.35,-44)(2001.40,-48)(2001.45,-50)(2001.50,-46)(2001.55,-44)
(2001.60,-42)(2001.65,-28)(2001.70,10)(2001.75,16)(2001.80,6)(2001.85,14)(2001.90,18)(2001.95,12)(2002.00,2)(2002.05,-4)
(2002.10,36)(2002.15,44)(2002.20,40)(2002.25,34)(2002.30,46)(2002.35,38)(2002.40,32)(2002.45,42)(2002.50,48)(2002.55,70)
(2002.60,88)(2002.63,76)(2002.66,60)(2002.70,100)(2002.73,122)(2002.76,118)(2002.79,96)(2002.82,50)(2002.85,44)(2002.90,22)
(2002.95,18)(2003.00,14)(2003.05,20)(2003.10,28)(2003.15,30)(2003.20,34)(2003.25,26)(2003.30,32)(2003.35,36)(2003.40,34)
(2003.45,30)(2003.50,36)(2003.55,32)(2003.60,30)(2003.65,26)(2003.70,20)(2003.75,10)(2003.80,8)(2003.85,6)(2003.90,10)
(2003.95,4)(2004.00,-2)(2004.05,-4)(2004.10,18)(2004.15,22)(2004.20,16)(2004.25,14)(2004.30,4)(2004.35,0)(2004.40,-2)
(2004.45,-6)(2004.50,-8)(2004.55,-2)(2004.60,24)(2004.65,30)(2004.70,26)(2004.75,18)(2004.80,-2)(2004.85,-6)(2004.90,8)
(2004.95,10)(2005.00,12)(2005.05,8)(2005.10,10)(2005.15,6)(2005.20,10)(2005.25,8)(2005.30,6)(2005.35,2)(2005.40,-2)
(2005.45,2)(2005.50,0)(2005.55,-2)(2005.60,4)(2005.65,8)(2005.70,10)(2005.75,6)(2005.80,-8)(2005.85,-12)(2005.90,-14)
(2005.95,-10)(2006.00,-12)(2006.05,-14)(2006.10,2)(2006.15,4)(2006.20,-10)(2006.25,-22)(2006.30,-36)(2006.35,-30)(2006.40,-24)
(2006.45,-12)(2006.50,-8)(2006.55,-10)(2006.60,-14)(2006.65,-12)(2006.70,-10)(2006.75,-16)(2006.80,-12)(2006.85,-14)(2006.90,-18)
(2006.95,-22)(2007.00,-24)(2007.05,-26)(2007.10,-22)(2007.15,-20)(2007.20,-18)(2007.25,-22)(2007.30,-16)(2007.35,-20)(2007.40,-24)
(2007.45,-22)(2007.50,-18)(2007.55,-20)(2007.60,-12)(2007.65,-6)(2007.70,-8)(2007.75,-10)(2007.80,-14)(2007.85,-12)(2007.90,-8)
(2007.95,-10)(2008.00,-14)(2008.05,-12)(2008.10,-16)(2008.15,-18)(2008.20,-14)(2008.25,-16)(2008.30,-18)(2008.35,-14)(2008.40,-16)
(2008.45,-10)(2008.50,-8)(2008.55,-18)(2008.60,-26)(2008.65,-32)(2008.70,-36)(2008.75,-38)(2008.80,-28)(2008.85,-26)(2008.90,-30)
(2008.95,-28)(2009.00,-32)(2009.05,-30)(2009.10,-36)(2009.15,-40)(2009.20,-44)(2009.25,-48)(2009.30,-50)(2009.35,-56)(2009.40,-60)
(2009.45,-62)(2009.50,-60)(2009.55,-64)(2009.60,-66)(2009.65,-68)(2009.70,-70)(2009.75,-69)(2009.80,-71)(2009.85,-70)(2009.90,-72)
(2009.95,-70)(2010.00,-68)(2010.05,-66)(2010.10,-70)(2010.15,-72)(2010.20,-80)(2010.25,-86)(2010.30,-84)(2010.35,-86)(2010.40,-80)
(2010.45,-78)(2010.50,-76)(2010.55,-74)(2010.60,-72)(2010.65,-68)(2010.70,-66)(2010.75,-64)(2010.80,-62)(2010.85,-64)(2010.90,-60)
(2010.95,-62)(2011.00,-58)(2011.05,-60)(2011.10,-56)(2011.15,-58)(2011.20,-54)(2011.25,-50)(2011.30,-48)(2011.35,-46)(2011.40,-42)
(2011.45,-40)(2011.50,-46)(2011.55,-50)(2011.60,-52)(2011.65,-56)(2011.70,-60)(2011.75,-62)(2011.80,-64)(2011.85,-66)(2011.90,-72)
(2011.95,-74)(2012.00,-72)(2012.05,-76)(2012.10,-78)(2012.15,-80)(2012.20,-81)(2012.25,-82)(2012.30,-84)(2012.35,-86)(2012.40,-87)
(2012.45,-88)(2012.50,-89)(2012.55,-88)(2012.60,-90)(2012.65,-89)(2012.70,-88)(2012.75,-86)(2012.80,-84)(2012.85,-82)(2012.90,-84)
(2012.95,-83)(2013.00,-82)(2013.05,-84)(2013.10,-85)(2013.15,-88)(2013.20,-89)(2013.25,-90)(2013.30,-91)(2013.35,-90)(2013.40,-91)
(2013.45,-90)(2013.50,-89)(2013.55,-88)(2013.60,-86)(2013.65,-85)(2013.70,-84)(2013.75,-86)(2013.80,-82)(2013.85,-78)(2013.90,-76)
(2013.95,-74)(2014.00,-76)(2014.05,-78)(2014.10,-80)(2014.15,-78)(2014.20,-74)(2014.25,-72)(2014.30,-76)(2014.35,-74)(2014.40,-76)
(2014.45,-78)(2014.50,-77)(2014.55,-79)(2014.60,-78)(2014.65,-80)(2014.70,-78)(2014.75,-77)(2014.80,-79)(2014.85,-78)(2014.90,-77)
(2014.95,-79)(2015.00,-78)(2015.05,-80)(2015.10,-78)(2015.15,-76)(2015.20,-72)(2015.25,-70)(2015.30,-72)(2015.35,-76)(2015.40,-77)
(2015.45,-78)(2015.50,-76)(2015.55,-74)(2015.60,-72)(2015.65,-70)(2015.70,-68)(2015.75,-66)(2015.80,-64)(2015.85,-62)(2015.90,-63)
(2015.95,-62)(2016.00,-60)(2016.05,-62)(2016.10,-70)(2016.15,-66)(2016.20,-58)(2016.25,-60)(2016.30,-62)(2016.35,-66)(2016.40,-72)
(2016.45,-74)(2016.50,-70)(2016.55,-60)
};
\addlegendentry{\sx{0.914}{Rendement\_A10}}
\addplot[y10, forget plot] coordinates {
(1997.015,12)(1997.045,14)(1997.075,5)(1997.105,2)(1997.135,-9)(1997.165,-10)(1997.195,-13)(1997.225,-5)(1997.255,-7)(1997.285,-1)
(1997.315,-6)(1997.345,-3)(1997.375,-8)(1997.405,-5)(1997.435,-10)(1997.465,-7)(1997.495,-12)(1997.525,-11)(1997.555,-18)(1997.585,-17)
(1997.625,-23)(1997.675,-22)(1997.725,-30)(1997.775,-27)(1997.825,-32)(1997.875,-29)(1997.925,-31)(1997.975,-23)(1998.025,-23)(1998.075,-21)
(1998.125,-27)(1998.175,-24)(1998.225,-34)(1998.275,-36)(1998.325,-44)(1998.375,-44)(1998.425,-52)(1998.475,-49)(1998.525,-51)(1998.575,-45)
(1998.625,-47)(1998.675,-44)(1998.725,-51)(1998.775,-46)(1998.825,-51)(1998.875,-49)(1998.925,-54)(1998.975,-55)(1999.025,-63)(1999.075,-61)
(1999.125,-64)(1999.175,-57)(1999.225,-56)(1999.275,-46)(1999.325,-49)(1999.375,-48)(1999.425,-56)(1999.475,-53)(1999.525,-58)(1999.575,-52)
(1999.625,-44)(1999.675,-27)(1999.725,-28)(1999.775,-22)(1999.825,-27)(1999.875,-32)(1999.925,-42)(1999.975,-42)(2000.025,-50)(2000.075,-47)
(2000.125,-48)(2000.175,-40)(2000.225,-40)(2000.275,-30)(2000.325,-28)(2000.375,-19)(2000.425,-19)(2000.475,-16)(2000.525,-29)(2000.575,-34)
(2000.625,-24)(2000.675,-4)(2000.725,1)(2000.775,-2)(2000.825,0)(2000.875,-8)(2000.925,-16)(2000.975,-18)(2001.025,-29)(2001.075,-30)
(2001.125,-33)(2001.175,-23)(2001.225,-23)(2001.275,-21)(2001.325,-37)(2001.375,-44)(2001.425,-51)(2001.475,-46)(2001.525,-47)(2001.575,-41)
(2001.625,-37)(2001.675,-11)(2001.725,15)(2001.775,9)(2001.825,12)(2001.875,14)(2001.925,17)(2001.975,5)(2002.025,1)(2002.075,20)
(2002.125,38)(2002.175,44)(2002.225,35)(2002.275,42)(2002.325,40)(2002.375,37)(2002.425,35)(2002.475,47)(2002.525,57)(2002.575,81)
(2002.685,84)(2002.745,110)(2002.805,70)(2002.875,31)(2002.925,22)(2002.975,14)(2003.025,19)(2003.075,22)(2003.125,31)(2003.175,30)
(2003.225,32)(2003.275,27)(2003.325,36)(2003.375,33)(2003.425,34)(2003.475,31)(2003.525,36)(2003.575,29)(2003.625,30)(2003.675,21)
(2003.725,17)(2003.775,7)(2003.825,9)(2003.875,6)(2003.925,9)(2003.975,-1)(2004.025,-5)(2004.075,9)(2004.125,22)(2004.175,17)
(2004.225,17)(2004.275,7)(2004.325,4)(2004.375,-3)(2004.425,-2)(2004.475,-9)(2004.525,-3)(2004.575,13)(2004.625,28)(2004.675,26)
(2004.725,24)(2004.775,6)(2004.825,-6)(2004.875,3)(2004.925,11)(2004.975,9)(2005.025,12)(2005.075,7)(2005.125,10)(2005.175,6)
(2005.225,11)(2005.275,5)(2005.325,6)(2005.375,-2)(2005.425,2)(2005.475,-1)(2005.525,3)(2005.575,-1)(2005.625,8)(2005.675,7)
(2005.725,10)(2005.775,-3)(2005.825,-8)(2005.875,-15)(2005.925,-10)(2005.975,-13)(2006.025,-11)(2006.075,-8)(2006.125,5)(2006.175,-5)
(2006.225,-14)(2006.275,-31)(2006.325,-31)(2006.375,-29)(2006.425,-16)(2006.475,-12)(2006.525,-7)(2006.575,-14)(2006.625,-11)(2006.675,-13)
(2006.725,-11)(2006.775,-16)(2006.825,-11)(2006.875,-18)(2006.925,-18)(2006.975,-25)(2007.025,-23)(2007.075,-26)(2007.125,-19)(2007.175,-21)
(2007.225,-18)(2007.275,-21)(2007.325,-16)(2007.375,-24)(2007.425,-21)(2007.475,-22)(2007.525,-17)(2007.575,-18)(2007.625,-7)(2007.675,-9)
(2007.725,-7)(2007.775,-14)(2007.825,-11)(2007.875,-12)(2007.925,-7)(2007.975,-14)(2008.025,-11)(2008.075,-16)(2008.125,-15)(2008.175,-18)
(2008.225,-13)(2008.275,-19)(2008.325,-14)(2008.375,-17)(2008.425,-11)(2008.475,-11)(2008.525,-11)(2008.575,-24)(2008.625,-27)(2008.675,-36)
(2008.725,-35)(2008.775,-35)(2008.825,-25)(2008.875,-30)(2008.925,-27)(2008.975,-32)(2009.025,-29)(2009.075,-35)(2009.125,-36)(2009.175,-44)
(2009.225,-44)(2009.275,-51)(2009.325,-51)(2009.375,-60)(2009.425,-59)(2009.475,-63)(2009.525,-60)(2009.575,-67)(2009.625,-65)(2009.675,-71)
(2009.725,-67)(2009.775,-72)(2009.825,-68)(2009.875,-73)(2009.925,-69)(2009.975,-71)(2010.025,-65)(2010.075,-70)(2010.125,-69)(2010.175,-78)
(2010.225,-81)(2010.275,-87)(2010.325,-83)(2010.375,-85)(2010.425,-77)(2010.475,-79)(2010.525,-73)(2010.575,-75)(2010.625,-68)(2010.675,-69)
(2010.725,-63)(2010.775,-65)(2010.825,-61)(2010.875,-64)(2010.925,-59)(2010.975,-62)(2011.025,-57)(2011.075,-60)(2011.125,-55)(2011.175,-58)
(2011.225,-50)(2011.275,-51)(2011.325,-45)(2011.375,-46)(2011.425,-39)(2011.475,-45)(2011.525,-46)(2011.575,-53)(2011.625,-52)(2011.675,-60)
(2011.725,-59)(2011.775,-65)(2011.825,-63)(2011.875,-71)(2011.925,-71)(2011.975,-75)(2012.025,-72)(2012.075,-79)(2012.125,-77)(2012.175,-82)
(2012.225,-80)(2012.275,-85)(2012.325,-83)(2012.375,-88)(2012.425,-86)(2012.475,-90)(2012.525,-87)(2012.575,-91)(2012.625,-88)(2012.675,-90)
(2012.725,-85)(2012.775,-87)(2012.825,-81)(2012.875,-85)(2012.925,-82)(2012.975,-84)(2013.025,-81)(2013.075,-86)(2013.125,-85)(2013.175,-90)
(2013.225,-88)(2013.275,-92)(2013.325,-89)(2013.375,-92)(2013.425,-89)(2013.475,-91)(2013.525,-87)(2013.575,-89)(2013.625,-84)(2013.675,-86)
(2013.725,-83)(2013.775,-86)(2013.825,-78)(2013.875,-79)(2013.925,-73)(2013.975,-77)(2014.025,-75)(2014.075,-81)(2014.125,-77)(2014.175,-78)
(2014.225,-71)(2014.275,-76)(2014.325,-73)(2014.375,-77)(2014.425,-75)(2014.475,-79)(2014.525,-76)(2014.575,-80)(2014.625,-77)(2014.675,-81)
(2014.725,-76)(2014.775,-80)(2014.825,-77)(2014.875,-79)(2014.925,-76)(2014.975,-80)(2015.025,-77)(2015.075,-81)(2015.125,-75)(2015.175,-76)
(2015.225,-69)(2015.275,-73)(2015.325,-72)(2015.375,-78)(2015.425,-76)(2015.475,-79)(2015.525,-73)(2015.575,-75)(2015.625,-69)(2015.675,-71)
(2015.725,-65)(2015.775,-67)(2015.825,-61)(2015.875,-64)(2015.925,-61)(2015.975,-63)(2016.025,-59)(2016.075,-68)(2016.125,-66)(2016.175,-64)
(2016.225,-57)(2016.275,-63)(2016.325,-62)(2016.375,-71)(2016.425,-71)(2016.475,-74)(2016.525,-63)(2016.575,-58)
};
\addplot[y10, forget plot] coordinates {
(2016.60,0)(2016.65,0)(2016.70,0)(2016.75,0)(2016.80,0)(2016.85,0)(2016.90,0)(2016.95,0)
(2017.00,0)(2017.05,0)(2017.10,0)(2017.15,0)(2017.20,0)(2017.25,0)(2017.30,0)(2017.35,0)(2017.40,0)(2017.45,0)
(2017.50,0)(2017.55,0)(2017.60,0)(2017.65,0)(2017.70,0)(2017.75,0)(2017.80,0)(2017.85,0)(2017.90,0)(2017.95,0)
(2018.00,0)(2018.05,0)(2018.10,0)(2018.15,0)(2018.20,0)(2018.25,0)(2018.30,0)(2018.35,0)(2018.40,0)(2018.45,0)
(2018.50,0)(2018.55,0)(2018.60,0)(2018.65,0)(2018.70,0)(2018.75,0)(2018.80,0)(2018.85,0)(2018.90,0)(2018.95,0)
(2019.00,0)(2019.05,0)(2019.10,0)(2019.15,0)(2019.20,0)(2019.25,0)(2019.30,0)(2019.35,0)(2019.40,0)(2019.45,0)
(2019.50,0)(2019.55,0)(2019.60,0)(2019.65,0)(2019.70,0)(2019.75,0)(2019.80,0)(2019.85,0)(2019.90,0)(2019.95,0)
(2020.00,0)(2020.05,0)(2020.10,0)(2020.15,0)(2020.20,0)(2020.25,0)(2020.30,0)(2020.35,0)(2020.40,0)(2020.45,0)
(2020.50,0)(2020.55,0)(2020.60,0)(2020.65,0)(2020.70,0)(2020.75,0)(2020.80,0)(2020.85,0)(2020.90,0)(2020.95,0)
(2021.00,0)(2021.05,0)(2021.10,0)(2021.15,0)(2021.20,0)(2021.25,0)(2021.30,0)(2021.35,0)(2021.40,0)(2021.45,0)
(2021.50,0)(2021.55,0)(2021.60,0)(2021.65,0)(2021.70,0)(2021.75,0)(2021.80,0)(2021.85,0)(2021.90,0)(2021.95,0)
(2022.00,0)(2022.05,0)(2022.10,0)(2022.15,0)(2022.20,0)(2022.25,0)(2022.30,0)(2022.35,0)(2022.40,0)(2022.45,0)
(2022.50,0)(2022.55,0)(2022.60,0)(2022.65,0)(2022.70,0)(2022.75,0)(2022.80,0)(2022.85,0)(2022.90,0)(2022.95,0)
(2023.00,0)
};
\addlegendimage{black, line width=2.5pt}
\addlegendentry{\sx{0.9}{0,0\%}}
\end{axis}
\fill[white] (142.5pt,466pt) rectangle (960pt,510pt);
\node[anchor=base, inner sep=0pt, text=txt] at (551.5pt,494.5pt) {\resizebox{814.5pt}{\height}{\fontsize{16.5}{19}\selectfont\bfseries Performance par rapport à l\textquotesingle indice S\&P 500 INDEX GROSS TR\ \ du placement Gap Inc/The en fonction de la date de début pour des durées}};
\node[anchor=base, inner sep=0pt, text=txt] at (551.5pt,472.5pt) {\resizebox{655.5pt}{\height}{\fontsize{16.5}{19}\selectfont\bfseries entre 4 (A04) et 10 ans (A10). Cotations entre janv. 1997 et juil. 2026. Revenus CAPITALISES depuis mars. 1997.}};
\end{tikzpicture}
\end{document}
